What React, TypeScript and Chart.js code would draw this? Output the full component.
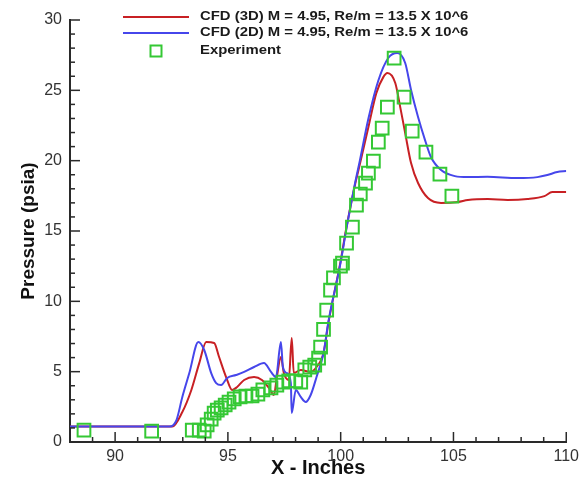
import React, { useEffect, useRef } from "react";
import { Chart, registerables } from "chart.js";

Chart.register(...registerables);

// ---- data ----
const cfd3dLabel = "CFD (3D) M = 4.95, Re/m = 13.5 X 10^6";
const cfd2dLabel = "CFD (2D) M = 4.95, Re/m = 13.5 X 10^6";
const expLabel = "Experiment";

const cfd3dX = [88, 92.54, 92.98, 93.38, 93.73, 94.04, 94.39, 94.61, 94.92, 95.19, 95.41, 95.72, 96.16, 96.51, 96.82, 97.04, 97.17, 97.35, 97.48, 97.7, 97.83, 97.92, 98.23, 98.67, 98.93, 99.24, 99.46, 99.99, 100.26, 100.65, 100.79, 101.23, 101.58, 101.89, 102.07, 102.42, 102.64, 102.86, 103.12, 103.43, 103.87, 104.45, 105.2, 105.64, 106.52, 107.4, 108.28, 109.03, 109.38, 110];
const cfd3dY = [1.1, 1.1, 2.13, 3.7, 5.61, 7.11, 7.04, 6.04, 4.62, 3.7, 3.91, 4.41, 4.62, 4.41, 3.84, 3.34, 4.62, 6.04, 4.9, 4.41, 7.39, 4.9, 5.12, 4.98, 5.33, 6.33, 8.5, 12.8, 15.3, 18.4, 19.33, 22.39, 24.8, 25.94, 26.23, 25.52, 23.81, 21.96, 19.83, 18.41, 17.34, 16.99, 17.06, 17.2, 17.27, 17.2, 17.27, 17.48, 17.77, 17.77];

const cfd2dX = [88, 92.41, 92.72, 92.98, 93.29, 93.69, 93.95, 94.26, 94.48, 94.7, 94.97, 95.36, 95.72, 96.16, 96.6, 96.91, 97.13, 97.35, 97.44, 97.61, 97.79, 97.83, 98.01, 98.23, 98.45, 98.67, 98.93, 99.24, 99.46, 99.99, 100.26, 100.65, 100.85, 101.23, 101.67, 102.11, 102.51, 102.86, 103.12, 103.43, 103.74, 104.0, 104.45, 105.06, 105.64, 106.5, 107.84, 108.72, 109.16, 109.6, 110];
const cfd2dY = [1.1, 1.1, 1.56, 3.2, 4.9, 7.11, 6.54, 4.9, 4.19, 4.05, 4.55, 4.76, 4.98, 5.33, 5.61, 4.98, 4.62, 7.11, 5.33, 4.9, 4.19, 2.06, 3.7, 3.2, 2.84, 3.34, 4.62, 6.33, 8.6, 12.7, 15.2, 18.5, 20.0, 23.0, 25.7, 27.3, 27.65, 26.94, 25.02, 23.1, 21.46, 20.26, 19.33, 18.9, 18.83, 18.85, 18.76, 18.83, 18.98, 19.19, 19.26];

const expX = [88.62, 91.62, 93.42, 93.73, 93.95, 94.08, 94.26, 94.39, 94.53, 94.7, 94.88, 95.05, 95.28, 95.54, 95.8, 96.07, 96.33, 96.55, 96.91, 97.17, 97.44, 97.7, 98.01, 98.23, 98.41, 98.63, 98.85, 99.02, 99.11, 99.24, 99.38, 99.55, 99.68, 99.99, 100.08, 100.26, 100.52, 100.7, 100.87, 101.1, 101.23, 101.45, 101.67, 101.84, 102.07, 102.37, 102.81, 103.17, 103.78, 104.4, 104.93];
const expY = [0.85, 0.78, 0.85, 0.85, 0.78, 1.21, 1.63, 2.06, 2.27, 2.42, 2.63, 2.84, 3.06, 3.2, 3.27, 3.27, 3.41, 3.7, 3.84, 4.05, 4.26, 4.34, 4.34, 4.26, 5.12, 5.33, 5.47, 5.97, 6.75, 8.0, 9.38, 10.8, 11.66, 12.51, 12.72, 14.14, 15.28, 16.84, 17.63, 18.41, 19.12, 19.97, 21.32, 22.32, 23.81, 27.29, 24.52, 22.1, 20.61, 19.05, 17.48];

const xMajorTicks = [90, 95, 100, 105, 110];
const yMajorTicks = [0, 5, 10, 15, 20, 25, 30];
const xRange = [88, 110];
const yRange = [0, 30];

const RED = "rgb(200,32,36)";
const BLUE = "rgb(70,70,235)";
const GREEN = "rgb(52,200,52)";
const AXIS = "#2a2a2a";

const toPts = (xs: number[], ys: number[]) => xs.map((x, i) => ({ x, y: ys[i] }));

const innerTicks = {
  id: "innerTicks",
  afterDraw(chart: any) {
    const { ctx, chartArea, scales } = chart;
    const x = scales.x;
    const y = scales.y;
    ctx.save();
    ctx.strokeStyle = AXIS;
    ctx.lineWidth = 1.5;
    for (let v = Math.ceil(x.min); v <= x.max; v += 1) {
      const px = x.getPixelForValue(v);
      const len = v % 5 === 0 ? 10 : 5;
      ctx.beginPath();
      ctx.moveTo(px, chartArea.bottom);
      ctx.lineTo(px, chartArea.bottom - len);
      ctx.stroke();
    }
    for (let v = Math.ceil(y.min); v <= y.max; v += 1) {
      const py = y.getPixelForValue(v);
      const len = v % 5 === 0 ? 10 : 5;
      ctx.beginPath();
      ctx.moveTo(chartArea.left, py);
      ctx.lineTo(chartArea.left + len, py);
      ctx.stroke();
    }
    ctx.restore();
  },
};

const customLegend = {
  id: "customLegend",
  afterDraw(chart: any) {
    const { ctx } = chart;
    const ds = chart.data.datasets;
    const rows = [17, 33, 51];
    const lineX0 = 123;
    const lineX1 = 189;
    const textX = 200;
    ctx.save();
    ds.forEach((d: any, i: number) => {
      const yy = rows[i];
      ctx.strokeStyle = d.borderColor;
      ctx.lineWidth = 2;
      if (d.showLine === false) {
        ctx.strokeRect((lineX0 + lineX1) / 2 - 5.5, yy - 5.5, 11, 11);
      } else {
        ctx.beginPath();
        ctx.moveTo(lineX0, yy);
        ctx.lineTo(lineX1, yy);
        ctx.stroke();
      }
      ctx.save();
      ctx.translate(textX, yy);
      ctx.scale(1.24, 1);
      ctx.font = "bold 12px 'Liberation Sans', Arial, sans-serif";
      ctx.fillStyle = "#1a1a1a";
      ctx.textBaseline = "middle";
      ctx.textAlign = "left";
      ctx.fillText(d.label, 0, 0);
      ctx.restore();
    });
    ctx.restore();
  },
};

export default function App() {
  const ref = useRef<HTMLCanvasElement | null>(null);
  useEffect(() => {
    document.body.style.margin = "0";
    const canvas = ref.current;
    if (!canvas) return;
    const chart = new Chart(canvas, {
      type: "scatter",
      data: {
        datasets: [
          {
            label: cfd3dLabel,
            data: toPts(cfd3dX, cfd3dY),
            showLine: true,
            borderColor: RED,
            backgroundColor: RED,
            borderWidth: 2,
            pointRadius: 0,
            cubicInterpolationMode: "monotone",
            order: 2,
          },
          {
            label: cfd2dLabel,
            data: toPts(cfd2dX, cfd2dY),
            showLine: true,
            borderColor: BLUE,
            backgroundColor: BLUE,
            borderWidth: 2,
            pointRadius: 0,
            cubicInterpolationMode: "monotone",
            order: 1,
          },
          {
            label: expLabel,
            data: toPts(expX, expY),
            showLine: false,
            borderColor: GREEN,
            backgroundColor: "rgba(0,0,0,0)",
            borderWidth: 2,
            pointStyle: "rect",
            pointRadius: 9,
            order: 0,
          },
        ] as any,
      },
      options: {
        animation: false,
        responsive: true,
        maintainAspectRatio: false,
        layout: { padding: { left: 0, top: 20, right: 15, bottom: 0 } },
        plugins: { legend: { display: false }, tooltip: { enabled: false } },
        scales: {
          x: {
            type: "linear",
            min: xRange[0],
            max: xRange[1],
            afterFit: (s: any) => {
              s.height = 39;
            },
            afterBuildTicks: (s: any) => {
              s.ticks = xMajorTicks.map((v) => ({ value: v }));
            },
            grid: { display: false, drawTicks: false },
            border: { display: true, color: AXIS, width: 2 },
            ticks: {
              autoSkip: false,
              maxRotation: 0,
              padding: 5,
              color: "#333",
              font: { family: "'Liberation Sans', Arial, sans-serif", size: 16 },
            },
            title: {
              display: true,
              text: "X - Inches",
              color: "#111",
              padding: { top: 0, bottom: 1 },
              font: { family: "'Liberation Sans', Arial, sans-serif", size: 20, weight: "bold" },
            },
          },
          y: {
            type: "linear",
            min: yRange[0],
            max: yRange[1],
            afterFit: (s: any) => {
              s.width = 70;
            },
            afterBuildTicks: (s: any) => {
              s.ticks = yMajorTicks.map((v) => ({ value: v }));
            },
            grid: { display: false, drawTicks: false },
            border: { display: true, color: AXIS, width: 2 },
            ticks: {
              autoSkip: false,
              padding: 8,
              color: "#333",
              font: { family: "'Liberation Sans', Arial, sans-serif", size: 16 },
            },
            title: {
              display: true,
              text: "Pressure (psia)",
              color: "#111",
              padding: { top: 17, bottom: 0 },
              font: { family: "'Liberation Sans', Arial, sans-serif", size: 19, weight: "bold" },
            },
          },
        },
      },
      plugins: [innerTicks, customLegend],
    } as any);
    return () => chart.destroy();
  }, []);
  return (
    <div style={{ width: 584, height: 481, position: "relative", background: "#fff" }}>
      <canvas ref={ref} />
    </div>
  );
}
